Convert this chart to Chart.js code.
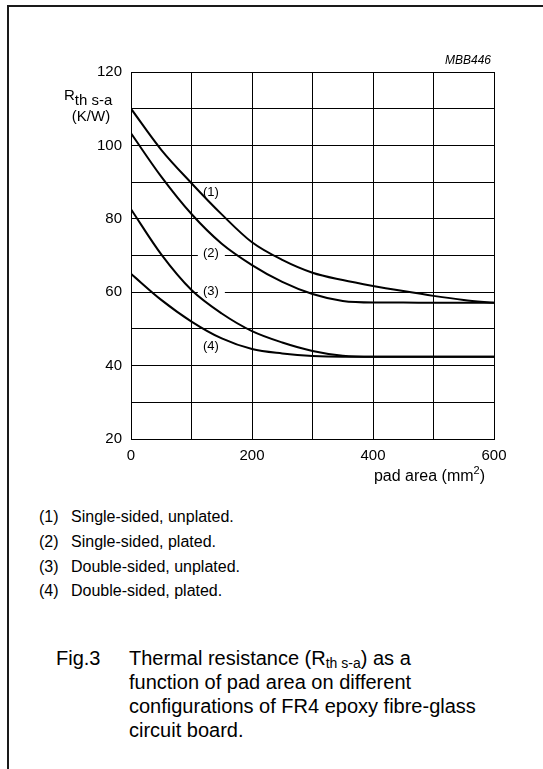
<!DOCTYPE html>
<html>
<head>
<meta charset="utf-8">
<script src="https://cdn.jsdelivr.net/npm/chart.js@4.4.0/dist/chart.umd.min.js"></script>
<style>
  html, body { margin: 0; padding: 0; background: #fff; }
  body { width: 543px; height: 769px; position: relative; overflow: hidden;
         font-family: 'Liberation Sans', Arial, sans-serif; color: #000; }
  #frame { position: absolute; left: 7px; top: 5px; width: 600px; height: 800px;
           border-left: 2px solid #1a1a1a; border-top: 2px solid #1a1a1a; }
  #wrap { position: absolute; left: 0; top: 0; width: 543px; height: 500px; }
  .note { position: absolute; left: 39px; font-size: 16px; line-height: 20px; white-space: nowrap; }
  .note span { position: absolute; left: 32px; top: 0; }
  #fig { position: absolute; left: 56px; top: 646px; font-size: 20px; line-height: 24px; }
  #caption { position: absolute; left: 129px; top: 646px; font-size: 20px; line-height: 24px; white-space: nowrap; }
  #caption sub { font-size: 14px; vertical-align: -3px; line-height: 0; }
</style>
</head>
<body>
<div id="frame"></div>
<div id="wrap"><canvas id="chart" width="543" height="500"></canvas></div>

<div class="note" style="top:507px">(1)<span>Single-sided, unplated.</span></div>
<div class="note" style="top:532px">(2)<span>Single-sided, plated.</span></div>
<div class="note" style="top:557px">(3)<span>Double-sided, unplated.</span></div>
<div class="note" style="top:581px">(4)<span>Double-sided, plated.</span></div>

<div id="fig">Fig.3</div>
<div id="caption">Thermal resistance (R<sub>th s-a</sub>) as a<br>function of pad area on different<br>configurations of FR4 epoxy fibre-glass<br>circuit board.</div>

<script>
// pad area in mm2, resistance in K/W
var PAD_AREA = [0, 50, 100, 150, 200, 250, 300, 350, 400, 450, 500, 550, 600];
var R_SINGLE_UNPLATED = [110, 98.8, 89.7, 81.2, 73.6, 68.8, 65.3, 63.3, 61.7, 60.3, 59.0, 57.9, 57.1];
var R_SINGLE_PLATED   = [103.3, 91.5, 81.3, 73.2, 67.4, 62.8, 59.5, 57.6, 57.2, 57.2, 57.1, 57.1, 57.1];
var R_DOUBLE_UNPLATED = [82.6, 70.3, 60.6, 54.2, 49.4, 46.3, 44.0, 42.7, 42.4, 42.4, 42.4, 42.4, 42.4];
var R_DOUBLE_PLATED   = [65.0, 57.9, 52.0, 47.4, 44.5, 43.3, 42.6, 42.4, 42.4, 42.4, 42.4, 42.4, 42.4];

var CURVE_TAGS = ['(1)', '(2)', '(3)', '(4)'];
var X_TICKS = [0, 200, 400, 600];
var Y_TICKS = [20, 40, 60, 80, 100, 120];

var FONT = "'Liberation Sans', Arial, sans-serif";

function _points(ys) {
  return PAD_AREA.map(function(x, i) { return { x: x, y: ys[i] }; });
}

function _curve(ys) {
  return {
    data: _points(ys),
    borderColor: '#000',
    borderWidth: 2,
    pointRadius: 0,
    fill: false,
    cubicInterpolationMode: 'monotone',
  };
}

var annotate = {
  id: 'annotate',
  beforeDatasetsDraw: function(chart) {
    var ctx = chart.ctx, xs = chart.scales.x, ys = chart.scales.y;
    // white gaps in the grid lines behind tags (2) and (3)
    ctx.save();
    ctx.fillStyle = '#fff';
    [70, 60].forEach(function(v) {
      var py = ys.getPixelForValue(v);
      var px = xs.getPixelForValue(132);
      ctx.fillRect(px - 13, py - 3, 27, 6);
    });
    ctx.restore();
  },
  afterDraw: function(chart) {
    var ctx = chart.ctx, xs = chart.scales.x, ys = chart.scales.y;
    ctx.save();
    ctx.fillStyle = '#000';

    // curve tags
    ctx.font = '13px ' + FONT;
    ctx.textAlign = 'center';
    ctx.textBaseline = 'middle';
    var tagY = [87.2, 70.6, 60.1, 45.1];
    CURVE_TAGS.forEach(function(t, i) {
      ctx.fillText(t, xs.getPixelForValue(132), ys.getPixelForValue(tagY[i]));
    });

    // drawing number
    ctx.font = 'italic 12px ' + FONT;
    ctx.textAlign = 'right';
    ctx.textBaseline = 'alphabetic';
    ctx.fillText('MBB446', 491, 64);

    // y axis title
    ctx.textAlign = 'left';
    ctx.font = '15px ' + FONT;
    ctx.fillText('R', 64, 100);
    var rw = ctx.measureText('R').width;
    ctx.font = '15px ' + FONT;
    ctx.fillText('th s-a', 64 + rw, 105);
    ctx.textAlign = 'center';
    ctx.fillText('(K/W)', 91, 121);

    // x axis title, drawn right to left
    ctx.textAlign = 'right';
    var x = 485, base = 481;
    ctx.font = '16px ' + FONT;
    ctx.fillText(')', x, base);
    x -= ctx.measureText(')').width;
    ctx.font = '11px ' + FONT;
    ctx.fillText('2', x, base - 7);
    x -= ctx.measureText('2').width;
    ctx.font = '16px ' + FONT;
    ctx.fillText('pad area (mm', x, base);

    ctx.restore();
  },
};

new Chart(document.getElementById('chart'), {
  type: 'line',
  data: {
    datasets: [
      _curve(R_SINGLE_UNPLATED),
      _curve(R_SINGLE_PLATED),
      _curve(R_DOUBLE_UNPLATED),
      _curve(R_DOUBLE_PLATED),
    ],
  },
  options: {
    responsive: false,
    animation: false,
    devicePixelRatio: 1,
    layout: { padding: { left: 0, top: 72, right: 49, bottom: 0 } },
    plugins: { legend: { display: false }, tooltip: { enabled: false } },
    scales: {
      x: {
        type: 'linear',
        min: 0,
        max: 600,
        afterFit: function(s) { s.height = 61; },
        grid: { color: '#000', lineWidth: 1, drawTicks: false },
        border: { color: '#000', width: 1 },
        ticks: {
          stepSize: 100,
          autoSkip: false,
          maxRotation: 0,
          padding: 8,
          color: '#000',
          font: { family: FONT, size: 15 },
          callback: function(v) { return X_TICKS.indexOf(v) >= 0 ? String(v) : ''; },
        },
      },
      y: {
        min: 20,
        max: 120,
        afterFit: function(s) { s.width = 131; },
        grid: { color: '#000', lineWidth: 1, drawTicks: false },
        border: { color: '#000', width: 1 },
        ticks: {
          stepSize: 10,
          autoSkip: false,
          padding: 9,
          color: '#000',
          font: { family: FONT, size: 15 },
          callback: function(v) { return Y_TICKS.indexOf(v) >= 0 ? String(v) : ''; },
        },
      },
    },
  },
  plugins: [annotate],
});
</script>
</body>
</html>
